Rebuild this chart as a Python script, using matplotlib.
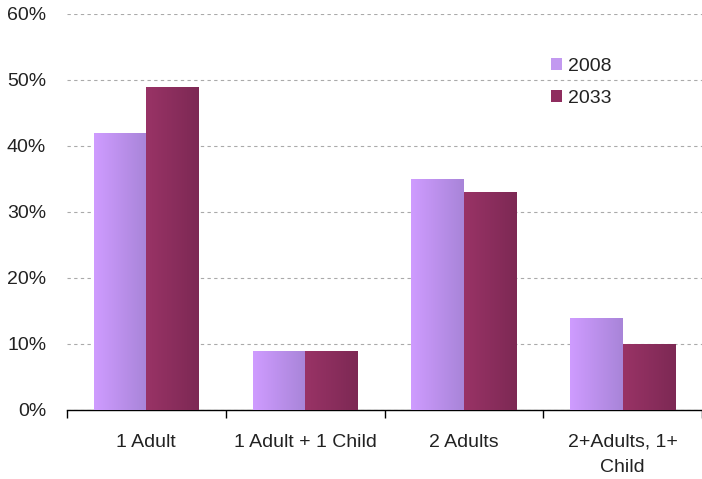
import matplotlib
matplotlib.use("Agg")
import matplotlib.pyplot as plt
import numpy as np
from matplotlib.colors import LinearSegmentedColormap
from matplotlib.patches import Patch

categories = ["1 Adult", "1 Adult + 1 Child", "2 Adults", "2+Adults, 1+\nChild"]
series_names = ["2008", "2033"]
values_2008 = [42, 9, 35, 14]
values_2033 = [49, 9, 33, 10]
y_ticks = [0, 10, 20, 30, 40, 50, 60]

plt.rcParams['font.family'] = ['Liberation Sans', 'DejaVu Sans']

W, H = 702, 479
fig = plt.figure(figsize=(W / 100, H / 100), dpi=100)
left, right, bottom, top = 67, 702, 410, 14
ax = fig.add_axes([left / W, 1 - bottom / H, (right - left) / W, (bottom - top) / H])

cat_w = 160.5
x = np.arange(len(categories))
bw = 53 / cat_w
grads = [
    ((0.81, 0.61, 1.0), (0.66, 0.52, 0.85)),
    ((0.60, 0.20, 0.40), (0.49, 0.16, 0.33)),
]
solid = ["#c299f0", "#8f2d5f"]

for i, vals in enumerate([values_2008, values_2033]):
    bars = ax.bar(x + (i - 0.5) * bw, vals, width=bw, color=solid[i], zorder=2, linewidth=0)
    cmap = LinearSegmentedColormap.from_list("g%d" % i, grads[i])
    for b in bars:
        x0, y0 = b.get_x(), b.get_y()
        bw_, bh = b.get_width(), b.get_height()
        im = ax.imshow(np.linspace(0, 1, 64).reshape(1, -1), cmap=cmap, aspect='auto',
                       extent=[x0, x0 + bw_, y0, y0 + bh], zorder=3, interpolation='bilinear')
        im.set_clip_path(b)

ax.set_xlim(-0.5, -0.5 + (right - left) / cat_w)
ax.set_ylim(0, 60)
ax.set_yticks(y_ticks)
ax.set_yticklabels([f"{t}%" for t in y_ticks], fontsize=14)
ax.tick_params(axis='y', length=0, pad=15, labelcolor='#222222')
ax.yaxis.grid(True, color='#aaaaaa', linestyle=(0, (3, 3)), linewidth=0.8, zorder=1)
ax.set_axisbelow(True)

ax.set_xticks(np.arange(len(categories) + 1) - 0.5)
ax.set_xticklabels([])
ax.set_xticks(x, minor=True)
ax.set_xticklabels(categories, minor=True, fontsize=14, color='#222222', linespacing=1.65)
ax.tick_params(axis='x', which='major', length=6, direction='out', color='black', width=1)
ax.tick_params(axis='x', which='minor', length=0, pad=17)

for s in ['top', 'right', 'left']:
    ax.spines[s].set_visible(False)
ax.spines['bottom'].set_color('black')
ax.spines['bottom'].set_linewidth(1)

handles = [Patch(facecolor=solid[0]), Patch(facecolor=solid[1])]
leg = ax.legend(handles, series_names, loc='upper left', bbox_to_anchor=(535 / W, 1 - 42 / H),
                bbox_transform=fig.transFigure, frameon=False, fontsize=14,
                handlelength=0.6, handleheight=0.6, handletextpad=0.3, labelspacing=0.8,
                borderpad=0.3)
for t in leg.get_texts():
    t.set_color('#222222')

fig.savefig("out.png", dpi=100)
